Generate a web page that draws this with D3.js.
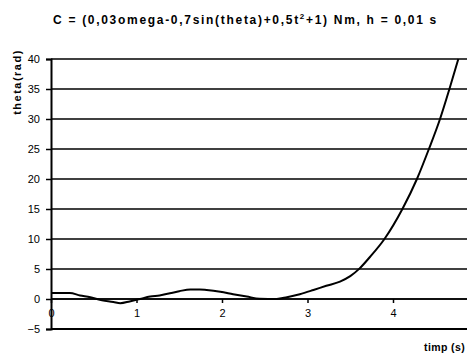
<!DOCTYPE html>
<html>
<head>
<meta charset="utf-8">
<script src="https://cdn.jsdelivr.net/npm/d3@7"></script>
<style>
  html, body { margin: 0; padding: 0; background: #fff; }
  svg { display: block; font-family: "Liberation Sans", Arial, sans-serif; }
</style>
</head>
<body>
<svg id="chart" width="467" height="354"></svg>
<script>
// Rotation angle theta (rad) over time t (s)
const timeValues  = [0, 0.22, 0.34, 0.46, 0.57, 0.73, 0.81, 0.92, 1.04, 1.16, 1.27, 1.39, 1.50, 1.63, 1.74, 1.82, 1.98, 2.13, 2.29, 2.44, 2.64, 2.76, 2.91, 3.07, 3.22, 3.38, 3.50, 3.61, 3.73, 3.90, 4.11, 4.28, 4.42, 4.55, 4.66, 4.764];
const thetaValues = [1.0, 1.0, 0.6, 0.3, -0.15, -0.5, -0.7, -0.4, 0.0, 0.4, 0.6, 0.95, 1.3, 1.6, 1.6, 1.5, 1.2, 0.8, 0.4, 0.05, 0.0, 0.3, 0.8, 1.5, 2.2, 2.9, 3.8, 5.1, 7.0, 10.0, 15.0, 20.0, 25.0, 30.0, 35.0, 40.0];
const yTicks = [-5, 0, 5, 10, 15, 20, 25, 30, 35, 40];
const xTicks = [0, 1, 2, 3, 4];

const svg = d3.select("#chart");
const plotLeft = 51, plotTop = 59, plotBottom = 329, plotRight = 467;

const x = d3.scaleLinear().domain([0, 4.88]).range([plotLeft, plotLeft + 4.88 * 85.5]);
const y = d3.scaleLinear().domain([-5, 40]).range([plotBottom, plotTop]);

// title
const title = svg.append("text")
  .attr("x", 53).attr("y", 24)
  .attr("font-size", 12).attr("font-weight", "bold")
  .attr("letter-spacing", 1.7);
title.append("tspan").text("C = (0,03omega-0,7sin(theta)+0,5t");
title.append("tspan").attr("font-size", 8).attr("dy", -5).text("2");
title.append("tspan").attr("dy", 5).text("+1) Nm, h = 0,01 s");

// horizontal gridlines
svg.append("g").selectAll("line").data(yTicks).join("line")
  .attr("x1", plotLeft).attr("x2", plotRight)
  .attr("y1", d => y(d)).attr("y2", d => y(d))
  .attr("stroke", "#000").attr("stroke-width", d => d === -5 ? 2 : 1.5);

// y axis
const yAxis = svg.append("g").attr("transform", `translate(${plotLeft},0)`)
  .call(d3.axisLeft(y).tickValues(yTicks).tickSize(5).tickPadding(6));
yAxis.select(".domain").attr("stroke-width", 2);
yAxis.selectAll(".tick line").attr("stroke-width", 1.5);
yAxis.selectAll("text").attr("font-size", 11).attr("font-family", "Liberation Sans, Arial, sans-serif");

// x axis crossing at theta = 0
const xAxis = svg.append("g").attr("transform", `translate(0,${y(0)})`)
  .call(d3.axisBottom(x).tickValues(xTicks).tickFormat(d3.format("d")).tickSize(4).tickPadding(6));
xAxis.select(".domain").attr("d", `M${plotLeft},0H${plotRight}`).attr("stroke-width", 1.5);
xAxis.selectAll(".tick line").attr("stroke-width", 1.5);
xAxis.selectAll("text").attr("font-size", 11).attr("font-family", "Liberation Sans, Arial, sans-serif");

// axis titles
svg.append("text")
  .attr("transform", "translate(21,82) rotate(-90)")
  .attr("text-anchor", "middle")
  .attr("font-size", 11).attr("font-weight", "bold")
  .attr("letter-spacing", 1.5)
  .text("theta(rad)");
svg.append("text")
  .attr("x", 424).attr("y", 351)
  .attr("font-size", 10.5).attr("font-weight", "bold")
  .attr("letter-spacing", 0.4)
  .text("timp (s)");

// data line
svg.append("clipPath").attr("id", "plotClip")
  .append("rect").attr("x", plotLeft).attr("y", plotTop - 1).attr("width", plotRight - plotLeft).attr("height", plotBottom - plotTop + 2);
const pts = timeValues.map((t, i) => [t, thetaValues[i]]);
svg.append("path")
  .datum(pts)
  .attr("clip-path", "url(#plotClip)")
  .attr("fill", "none").attr("stroke", "#000").attr("stroke-width", 2)
  .attr("d", d3.line().x(d => x(d[0])).y(d => y(d[1])).curve(d3.curveMonotoneX));
</script>
</body>
</html>
